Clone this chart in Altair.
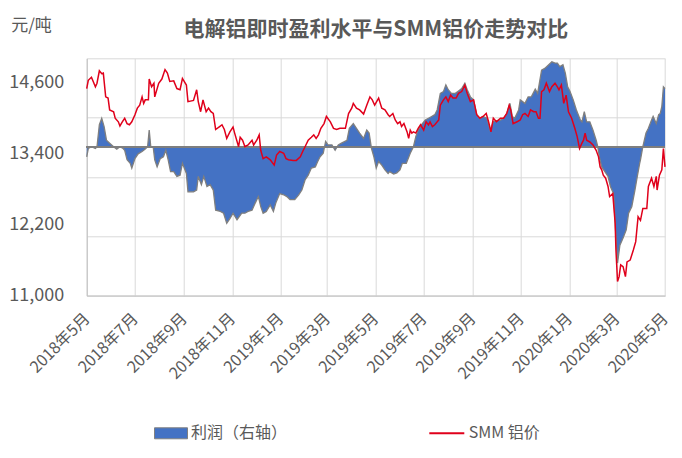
import pandas as pd
import altair as alt

# SMM aluminium price (yuan/t), day offset from 2018-05-01
price_days = [0, 2, 6, 11, 13, 16, 19, 21, 24, 27, 29, 34, 36, 40, 42, 45, 48, 51, 54, 57,
              61, 64, 67, 70, 72, 74, 78, 79, 82, 85, 86, 91, 95, 99, 102, 105, 110, 114, 118, 121,
              126, 128, 135, 139, 141, 144, 147, 151, 154, 157, 160, 163, 168, 171, 174, 177, 181, 185, 187, 192,
              194, 197, 200, 204, 209, 211, 215, 218, 220, 223, 227, 232, 237, 240, 244, 249, 252, 255, 261, 265,
              270, 273, 276, 280, 284, 287, 290, 293, 296, 300, 303, 308, 312, 316, 320, 327, 331, 335, 337, 341,
              345, 350, 354, 358, 361, 364, 369, 373, 377, 381,
              383, 387, 390, 393, 396, 398, 401, 405, 407, 409, 411, 413, 416, 419, 422, 426, 429, 432, 434, 437,
              440, 445, 447, 451, 454, 457, 460, 463, 467, 470, 474, 478, 481, 485, 489, 493, 497, 501, 505, 508,
              511, 514, 518, 523, 527, 531, 534, 536, 539, 544, 548, 551, 554, 558, 561, 565, 568, 571,
              573, 575, 578, 581, 585, 588, 592, 595, 597, 600, 603, 606, 609, 613, 617, 620, 623, 626, 628, 630,
              632, 636, 640, 644, 647, 649, 651, 653, 656, 659, 661, 665, 668, 669, 671, 673, 675, 678, 681, 683,
              687, 691, 694, 697, 700, 703, 708, 710, 714, 717, 720, 721, 724, 727, 729, 731]
price_vals = [14490, 14630, 14680, 14520, 14580, 14790, 14740, 14750, 14350, 14330, 14130, 14100, 13990, 13930, 13860, 13930, 13990, 13900, 13880, 13930,
              14050, 14160, 14210, 14350, 14240, 14300, 14300, 14650, 14520, 14580, 14350, 14580, 14650, 14810, 14750, 14610, 14620, 14490, 14470, 14660,
              14550, 14270, 14290, 14470, 14270, 14100, 14300, 14100, 14160, 14100, 14070, 13800, 13850, 13880, 13800, 13650, 13760, 13840, 13740, 13510,
              13670, 13620, 13510, 13540, 13620, 13540, 13620, 13710, 13450, 13310, 13340, 13290, 13200, 13370, 13430, 13400, 13310, 13290, 13280, 13280,
              13340, 13430, 13510, 13620, 13670, 13710, 13650, 13710, 13820, 13900, 14020, 13930, 13820, 13800, 13820, 13820, 14070, 14160, 14240, 14160,
              14130, 14060, 14210, 14350, 14300, 14210, 14330, 14160, 14130, 14050,
              14020, 14070, 13960, 13900, 13930, 13850, 13900, 13760, 13650, 13790, 13740, 13760, 13740, 13820, 13880, 13790, 13930, 13880, 13930, 13850,
              13880, 13960, 14210, 14300, 14350, 14270, 14380, 14330, 14330, 14410, 14440, 14550, 14410, 14270, 14300, 14050, 13990, 14020, 14070, 13930,
              13760, 13990, 13930, 13990, 13990, 14070, 14210, 14130, 13900, 13930, 13960, 14050, 14070, 14020, 14130, 14100, 14100, 13990,
              13990, 14440, 14470, 14580, 14440, 14520, 14580, 14520, 14470, 14550, 14240, 14380, 14100, 13990, 13820, 13680, 13480, 13570, 13620, 13740,
              13620, 13590, 13540, 13450, 13340, 13170, 13120, 13030, 12980, 12840, 12670, 12720, 12220, 11770, 11240, 11320, 11520, 11490, 11320, 11570,
              11600, 11770, 11910, 12330, 12270, 12470, 12470, 12840, 12980, 12840, 13010, 12780, 13030, 13120, 13480, 13170]

# Smelting profit (yuan/t, right axis), day offset from 2018-05-01
profit_days = [0, 2, 6, 11, 13, 16, 19, 22, 25, 29, 34, 38, 42, 46, 48, 51, 55, 57, 61, 65,
               70, 74, 77, 79, 81, 84, 86, 89, 93, 97, 100, 103, 106, 110, 114, 118, 121, 126, 128, 135,
               139, 141, 145, 148, 152, 156, 160, 163, 169, 173, 177, 181, 185, 190,
               196, 200, 204, 209, 213, 217, 220, 223, 227, 232, 236, 239, 244, 249, 253, 257, 263, 268, 272, 276,
               280, 284, 289, 292, 295, 299, 302, 305, 310, 314, 318, 322, 329, 332, 337, 341, 345, 350, 354, 357,
               360, 363, 366, 369, 373, 377, 381,
               383, 388, 392, 396, 399, 404, 409, 413, 416, 419, 423, 428, 432, 436, 440, 443, 447, 451, 454, 457,
               461, 466, 470, 474, 478, 481, 485, 489, 493, 497, 501, 506, 510, 514, 518, 523, 527, 531, 535, 538,
               541, 546, 548, 551, 554, 558, 562, 567, 570,
               575, 579, 584, 588, 592, 595, 598, 602, 605, 608, 611, 615, 619, 624, 626, 629, 632, 636, 640, 644,
               646, 648, 651, 655, 659, 662, 666, 669, 671, 674, 678, 682, 685, 689, 693, 696, 699, 700, 703, 707,
               710, 714, 716, 720, 723, 725, 727, 729, 731]
profit_vals = [-160, -20, 10, -20, 10, 380, 490, 350, 120, 70, 10, -30, 10, -20, -50, -210, -270, -350, -190, -110,
               -70, -30, 10, 290, 10, 10, -210, -330, -190, -160, -50, -210, -410, -410, -490, -470, -270, -440, -750, -750,
               -720, -490, -630, -490, -660, -630, -720, -1060, -1080, -1110, -1280, -1200, -1110, -1220,
               -1110, -1110, -1080, -1060, -940, -830, -1000, -1110, -1080, -970, -1080, -940, -780, -800, -830, -880, -880, -800, -720, -550,
               -470, -350, -330, -240, -160, -100, 100, 40, 40, -50, 40, 70, 120, 320, 400, 320, 240, 150, 290, 240,
               -20, -160, -350, -240, -300, -380, -440,
               -410, -450, -430, -380, -270, -270, -100, 10, 180, 290, 380, 460, 490, 520, 550, 630, 910, 940, 1050, 970,
               910, 910, 950, 990, 1080, 970, 850, 800, 550, 490, 520, 490, 290, 430, 450, 460, 490, 570, 740, 520,
               490, 630, 800, 770, 740, 850, 850, 980, 910,
               1300, 1330, 1390, 1440, 1420, 1420, 1360, 1390, 1250, 1020, 940, 800, 630, 460, 430, 600, 430, 430, 290, 120,
               10, -160, -330, -410, -490, -660, -780, -1510, -1950, -1650, -1530, -1390, -1110, -1000, -720, -490, -270, -210, 10, 240,
               320, 460, 520, 400, 550, 570, 690, 1020, 990]

tick_months = [(2018, 5), (2018, 7), (2018, 9), (2018, 11), (2019, 1), (2019, 3), (2019, 5),
               (2019, 7), (2019, 9), (2019, 11), (2020, 1), (2020, 3), (2020, 5)]
price_ticks = [11000, 12200, 13400, 14600]
profit_grid = [-2500, -2000, -1500, -1000, -500, 0, 500, 1000, 1500]

font = "Noto Sans CJK SC"
text_gray = "#595959"
grid_gray = "#D9D9D9"

start = pd.Timestamp("2018-05-01")
price_df = pd.DataFrame({
    "date": [(start + pd.Timedelta(days=d)).strftime("%Y-%m-%d") for d in price_days],
    "price": price_vals,
    "series": "SMM 铝价",
})
profit_df = pd.DataFrame({
    "date": [(start + pd.Timedelta(days=d)).strftime("%Y-%m-%d") for d in profit_days],
    "profit": profit_vals,
    "series": "利润（右轴）",
})

x_enc = alt.X(
    "date:T",
    title="",
    scale=alt.Scale(type="utc", domain=[alt.DateTime(year=2018, month=5, date=1, utc=True),
                                        alt.DateTime(year=2020, month=5, date=1, utc=True)]),
    axis=alt.Axis(
        values=[alt.DateTime(year=y, month=m, date=1, utc=True) for y, m in tick_months],
        labelExpr="utcyear(datum.value) + '年' + (utcmonth(datum.value) + 1) + '月'",
        labelAngle=-45, labelAlign="right", labelBaseline="middle",
        labelPadding=20, labelFontSize=16, labelFont=font, labelColor=text_gray,
        labelOverlap=False, ticks=False, grid=True, gridColor=grid_gray,
        domainColor="#BFBFBF"
    )
)

profit_y = alt.Y(
    "profit:Q",
    scale=alt.Scale(domain=[-2500, 1500]),
    axis=alt.Axis(orient="right", values=profit_grid, labels=False, ticks=False,
                  domain=False, grid=True, gridColor=grid_gray, title="")
)

area = alt.Chart(profit_df).mark_area(opacity=1).encode(
    x=x_enc,
    y=profit_y,
    fill=alt.Fill("series:N", scale=alt.Scale(domain=["利润（右轴）"], range=["#4472C4"]),
                  legend=alt.Legend(title=None, orient="none", legendX=67.3, legendY=358,
                                    symbolType="M-1,-0.333H1V0.333H-1Z", symbolSize=1089,
                                    symbolStrokeColor="#7F7F7F", symbolStrokeWidth=1,
                                    labelFontSize=16, labelFont=font, labelColor=text_gray,
                                    labelOffset=3, padding=0))
)

outline = alt.Chart(profit_df).mark_line(color="#7F7F7F", strokeWidth=1.3).encode(
    x=x_enc,
    y=profit_y
)

zero_line = alt.Chart(profit_df).mark_rule(color="#7F7F7F", strokeWidth=1.5).encode(
    y=alt.datum(0)
)

profit_layer = alt.layer(area, outline, zero_line)

price_line = alt.Chart(price_df).mark_line(strokeWidth=1.5).encode(
    x=x_enc,
    y=alt.Y(
        "price:Q",
        scale=alt.Scale(domain=[11000, 15000]),
        axis=alt.Axis(orient="left", values=price_ticks,
                      labelExpr="format(datum.value, ',.0f')", grid=False, ticks=False,
                      labelPadding=23, labelFontSize=18, labelFont=font, labelColor=text_gray,
                      domainColor="#BFBFBF",
                      title="元/吨", titleAngle=0, titleAlign="left", titleBaseline="middle",
                      titleX=-76, titleY=-33, titleFontSize=17, titleFontWeight="normal",
                      titleFont=font, titleColor=text_gray)
    ),
    stroke=alt.Stroke("series:N", scale=alt.Scale(domain=["SMM 铝价"], range=["#E0001B"]),
                      legend=alt.Legend(title=None, orient="none", legendX=341.6, legendY=356.5,
                                        symbolType="stroke", symbolSize=1225, symbolStrokeWidth=2,
                                        labelFontSize=16, labelFont=font, labelColor=text_gray,
                                        labelOffset=3.5, padding=0))
)

chart = alt.layer(profit_layer, price_line).resolve_scale(
    y="independent"
).properties(
    width=578.3,
    height=237.4,
    autosize=alt.AutoSizeParams(type="none"),
    padding={"left": 78.7, "top": 50.3, "right": 9, "bottom": 154.7},
    title=alt.TitleParams(
        text="电解铝即时盈利水平与SMM铝价走势对比",
        fontSize=21, fontWeight="bold", font=font, color=text_gray,
        anchor="middle", offset=-24
    )
).configure_view(
    strokeWidth=0
)

chart.save("out.html", embed_options={"renderer": "svg", "actions": False})
